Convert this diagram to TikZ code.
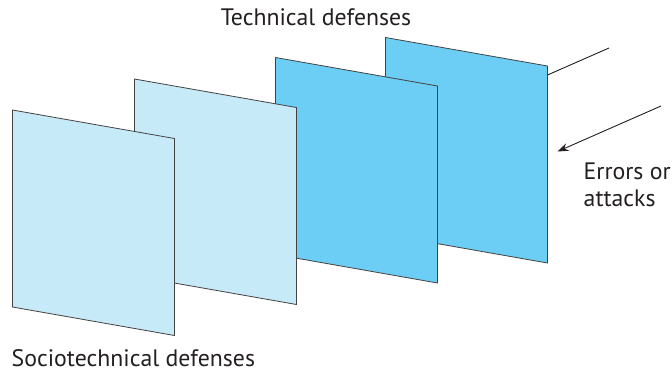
\documentclass[tikz,border=0pt]{standalone}
\usepackage{fontspec}
\setmainfont{PT Sans}
\usetikzlibrary{arrows.meta}
\definecolor{paleblue}{HTML}{C7EAF9}
\definecolor{skyblue}{HTML}{6CCEF5}
\definecolor{ink}{HTML}{231F20}

\begin{document}
\begin{tikzpicture}[
    x=1pt, y=-1pt,
    panel/.style={draw=ink!85, line width=0.8pt, line join=miter},
    tag/.style={font=\fontsize{23.8}{26.8}\selectfont, text=ink, inner sep=0pt},
    ray/.style={draw=ink, line width=0.9pt},
    arrow/.style={-{Stealth[length=11pt, width=8pt]}, draw=ink, line width=0.9pt}
]
\useasboundingbox (0,0) rectangle (672,373);

% Defense layers, back to front
\foreach \x/\y/\c/\n in {385.5/37.5/skyblue/d, 275.5/57.5/skyblue/c,
                         134.5/79/paleblue/b, 12.5/110/paleblue/a}{
  \filldraw[panel, fill=\c] (\x,\y) coordinate (\n-tl)
    -- ++(162,28.5) coordinate (\n-tr)
    -- ++(0,197) coordinate (\n-br)
    -- ++(-162,-28.5) coordinate (\n-bl) -- cycle;
}

% Incoming errors
\coordinate (ray-in) at (609,48);
\coordinate (ray-out) at (661,106);
\coordinate (ray-tip) at (557.5,151.5);
\draw[ray] ([yshift=-9pt]d-tr) -- (ray-in);
\draw[arrow] (ray-out) -- (ray-tip);

% Labels
\node[tag, anchor=base] (tech) at (316,25.5) {Technical defenses};
\node[tag, anchor=base west] (socio) at (11.5,366.5) {Sociotechnical defenses};
\node[tag, anchor=north west, align=left] (errors) at (583.5,163) {Errors or\\attacks};

\end{tikzpicture}
\end{document}
